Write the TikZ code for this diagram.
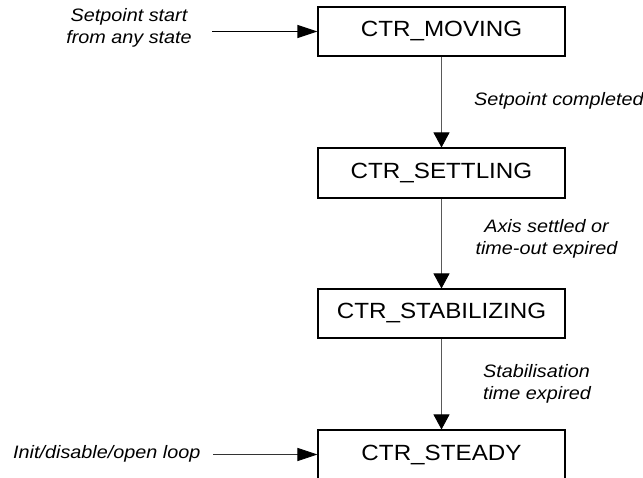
\documentclass[tikz,border=0pt]{standalone}
\usepackage{fontspec}
\setmainfont{Liberation Sans}[FakeStretch=1.1]
\usetikzlibrary{arrows.meta}
\begin{document}
\begin{tikzpicture}[x=1pt,y=-1pt,
  state/.style={draw=black,line width=1.1pt,minimum width=247pt,minimum height=49pt,inner sep=0pt,
    font=\fontsize{22}{26}\selectfont},
  lbl/.style={font=\fontsize{18}{22}\selectfont\itshape,inner sep=0pt,align=center},
  trans/.style={draw=black!65,line width=0.9pt,-{Triangle[length=15pt,width=16pt,color=black]}},
  entry/.style={draw=black,line width=1.1pt,-{Triangle[length=20pt,width=13pt,color=black]}}]
\useasboundingbox (0,0) rectangle (643,477);
\node[state] (moving) at (441.5,31.5) {CTR\_MOVING};
\node[state,minimum height=50pt] (settling) at (441.5,173) {CTR\_SETTLING};
\node[state] (stab) at (441.5,313.5) {CTR\_STABILIZING};
\node[state] (steady) at (441.5,454.5) {CTR\_STEADY};
\draw[trans] (moving) -- (settling);
\draw[trans] (settling) -- (stab);
\draw[trans] (stab) -- (steady);
\node[lbl,anchor=west] (l1) at (474,101) {Setpoint completed};
\node[lbl] (l2) at (546.5,239) {Axis settled or\\time-out expired};
\node[lbl,align=left] (l3) at (537,384) {Stabilisation\\time expired};
\node[lbl] (l4) at (129,28) {Setpoint start\\from any state};
\node[lbl,anchor=west] (l5) at (13,454) {Init/disable/open loop};
\coordinate (e1) at (212,31.5);
\coordinate (e2) at (213,454.5);
\draw[entry] (e1) -- (moving.west);
\draw[entry,line width=0.8pt,draw=black!80] (e2) -- (steady.west);
\end{tikzpicture}
\end{document}
